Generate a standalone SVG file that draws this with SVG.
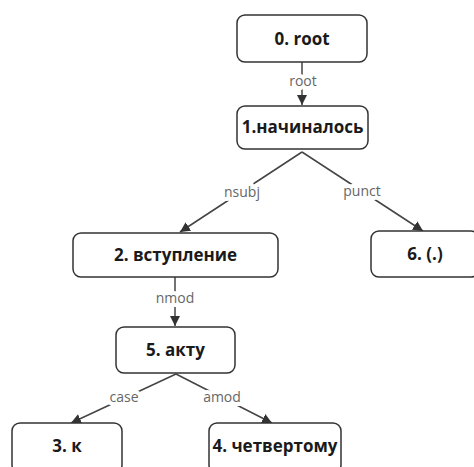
<svg xmlns="http://www.w3.org/2000/svg" width="474" height="467" viewBox="0 0 474 467">
<defs>
<marker id="ah" viewBox="0 0 10 10" refX="10" refY="5" markerWidth="10" markerHeight="10" markerUnits="userSpaceOnUse" orient="auto">
<path d="M0,0 L10,5 L0,10 z" fill="#333"/>
</marker>
<style>
.box{fill:#fff;stroke:#333;stroke-width:1.5}
.nt{font-family:"Open Sans","Noto Sans",sans-serif;font-weight:bold;font-size:17px;fill:#1a1a1a;text-anchor:middle}
.edge{stroke:#444;stroke-width:1.5;fill:none;marker-end:url(#ah)}
.lbl{font-family:"Open Sans","Noto Sans",sans-serif;font-size:14px;fill:#666;text-anchor:middle;stroke:#fff;stroke-width:8px;paint-order:stroke;stroke-linejoin:round}
</style>
</defs>
<rect width="474" height="467" fill="#fff"/>
<g id="edges">
<line class="edge" x1="302" y1="62" x2="302" y2="105"/>
<text class="lbl" x="303" y="86">root</text>
<line class="edge" x1="302" y1="152" x2="180" y2="232"/>
<text class="lbl" x="242" y="197">nsubj</text>
<line class="edge" x1="302" y1="152" x2="423" y2="231"/>
<text class="lbl" x="362" y="196">punct</text>
<line class="edge" x1="175" y1="277" x2="175" y2="326"/>
<text class="lbl" x="175" y="303">nmod</text>
<line class="edge" x1="176" y1="374" x2="71" y2="423"/>
<text class="lbl" x="124" y="402">case</text>
<line class="edge" x1="176" y1="374" x2="272" y2="423"/>
<text class="lbl" x="222" y="402">amod</text>
</g>
<g id="n0"><rect class="box" x="237" y="15" width="130" height="47" rx="8"/><text class="nt" x="302" y="45">0. root</text></g>
<g id="n1"><rect class="box" x="237" y="106" width="131" height="43" rx="8"/><text class="nt" x="302.5" y="133">1.начиналось</text></g>
<g id="n2"><rect class="box" x="73" y="233" width="205" height="44" rx="8"/><text class="nt" x="175.5" y="261">2. вступление</text></g>
<g id="n6"><rect class="box" x="371" y="231" width="108" height="46" rx="8"/><text class="nt" x="425" y="260">6. (.)</text></g>
<g id="n5"><rect class="box" x="116" y="327" width="119" height="46" rx="8"/><text class="nt" x="175.5" y="356">5. акту</text></g>
<g id="n3"><rect class="box" x="12" y="423" width="110" height="50" rx="8"/><text class="nt" x="67" y="452">3. к</text></g>
<g id="n4"><rect class="box" x="209" y="423" width="132" height="50" rx="8"/><text class="nt" x="275" y="452">4. четвертому</text></g>
</svg>
